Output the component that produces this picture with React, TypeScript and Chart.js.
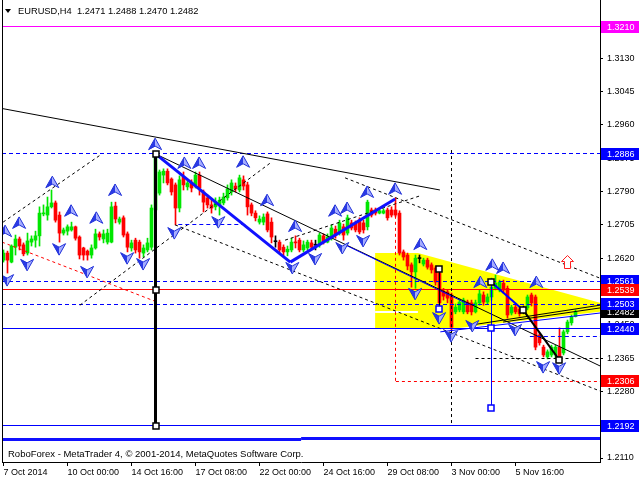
import React, { useEffect, useRef } from 'react';
import { Chart, registerables } from 'chart.js';

Chart.register(...registerables);

// ---------- candle data (EURUSD H4) ----------
const opens = [
  1.2615, 1.2633, 1.2610, 1.2648, 1.2669, 1.2654, 1.2633, 1.2661, 1.2666, 1.2677,
  1.2733, 1.2730, 1.2751, 1.2761, 1.2730, 1.2684, 1.2689, 1.2692, 1.2700, 1.2674,
  1.2646, 1.2638, 1.2628, 1.2646, 1.2682, 1.2669, 1.2661, 1.2661, 1.2753, 1.2712,
  1.2723, 1.2682, 1.2646, 1.2666, 1.2661, 1.2633, 1.2641, 1.2648, 1.2743, 1.2786,
  1.2832, 1.2842, 1.2822, 1.2807, 1.2748, 1.2827, 1.2802, 1.2814, 1.2807, 1.2832,
  1.2789, 1.2774, 1.2756, 1.2751, 1.2756, 1.2761, 1.2774, 1.2789, 1.2804, 1.2794,
  1.2820, 1.2807, 1.2756, 1.2735, 1.2712, 1.2712, 1.2733, 1.2712, 1.2663, 1.2661,
  1.2648, 1.2636, 1.2641, 1.2661, 1.2666, 1.2641, 1.2646, 1.2659, 1.2654, 1.2654,
  1.2677, 1.2661, 1.2671, 1.2694, 1.2684, 1.2700, 1.2684, 1.2710, 1.2710, 1.2717,
  1.2710, 1.2700, 1.2743, 1.2743, 1.2735, 1.2735, 1.2743, 1.2743, 1.2743, 1.2735,
  1.2636, 1.2628, 1.2603, 1.2585, 1.2620, 1.2605, 1.2615, 1.2603, 1.2595, 1.2582,
  1.2536, 1.2534, 1.2526, 1.2483, 1.2488, 1.2483, 1.2508, 1.2506, 1.2483, 1.2506,
  1.2526, 1.2508, 1.2521, 1.2543, 1.2539, 1.2556, 1.2543, 1.2480, 1.2495, 1.2490,
  1.2488, 1.2493, 1.2526, 1.2521, 1.2424, 1.2393, 1.2368, 1.2373, 1.2373, 1.2393,
  1.2378, 1.2432, 1.2455, 1.2471,
];
const highs = [
  1.2641, 1.2638, 1.2654, 1.2679, 1.2674, 1.2659, 1.2684, 1.2677, 1.2689, 1.2751,
  1.2756, 1.2776, 1.2794, 1.2766, 1.2738, 1.2697, 1.2705, 1.2712, 1.2702, 1.2677,
  1.2648, 1.2641, 1.2654, 1.2694, 1.2687, 1.2692, 1.2694, 1.2763, 1.2763, 1.2725,
  1.2728, 1.2687, 1.2666, 1.2671, 1.2666, 1.2654, 1.2671, 1.2756, 1.2886, 1.2845,
  1.2848, 1.2848, 1.2825, 1.2812, 1.2830, 1.2840, 1.2820, 1.2820, 1.2840, 1.2840,
  1.2794, 1.2781, 1.2768, 1.2774, 1.2776, 1.2786, 1.2807, 1.2820, 1.2812, 1.2832,
  1.2830, 1.2814, 1.2761, 1.2741, 1.2728, 1.2733, 1.2738, 1.2723, 1.2677, 1.2666,
  1.2654, 1.2651, 1.2671, 1.2677, 1.2671, 1.2664, 1.2666, 1.2666, 1.2666, 1.2684,
  1.2682, 1.2682, 1.2705, 1.2702, 1.2717, 1.2707, 1.2730, 1.2717, 1.2715, 1.2723,
  1.2717, 1.2768, 1.2748, 1.2748, 1.2746, 1.2746, 1.2748, 1.2751, 1.2774, 1.2741,
  1.2641, 1.2633, 1.2608, 1.2628, 1.2628, 1.2620, 1.2620, 1.2608, 1.2600, 1.2595,
  1.2543, 1.2539, 1.2531, 1.2503, 1.2516, 1.2518, 1.2513, 1.2513, 1.2513, 1.2539,
  1.2534, 1.2529, 1.2569, 1.2577, 1.2564, 1.2564, 1.2549, 1.2500, 1.2500, 1.2495,
  1.2498, 1.2526, 1.2531, 1.2526, 1.2429, 1.2398, 1.2386, 1.2398, 1.2398, 1.2442,
  1.2437, 1.2462, 1.2475, 1.2488,
];
const lows = [
  1.2610, 1.2582, 1.2608, 1.2628, 1.2641, 1.2626, 1.2628, 1.2651, 1.2648, 1.2651,
  1.2728, 1.2717, 1.2748, 1.2712, 1.2661, 1.2679, 1.2679, 1.2689, 1.2666, 1.2618,
  1.2615, 1.2615, 1.2620, 1.2643, 1.2666, 1.2659, 1.2656, 1.2659, 1.2710, 1.2707,
  1.2674, 1.2636, 1.2638, 1.2633, 1.2620, 1.2623, 1.2636, 1.2641, 1.2738, 1.2781,
  1.2812, 1.2807, 1.2781, 1.2705, 1.2738, 1.2794, 1.2794, 1.2789, 1.2799, 1.2781,
  1.2738, 1.2748, 1.2735, 1.2743, 1.2730, 1.2756, 1.2768, 1.2781, 1.2789, 1.2789,
  1.2794, 1.2730, 1.2728, 1.2715, 1.2707, 1.2705, 1.2687, 1.2659, 1.2648, 1.2633,
  1.2626, 1.2626, 1.2636, 1.2646, 1.2636, 1.2636, 1.2641, 1.2643, 1.2641, 1.2648,
  1.2656, 1.2659, 1.2666, 1.2671, 1.2679, 1.2666, 1.2679, 1.2692, 1.2687, 1.2682,
  1.2684, 1.2692, 1.2725, 1.2730, 1.2733, 1.2733, 1.2717, 1.2725, 1.2725, 1.2628,
  1.2615, 1.2590, 1.2546, 1.2543, 1.2608, 1.2600, 1.2592, 1.2582, 1.2551, 1.2498,
  1.2513, 1.2506, 1.2434, 1.2478, 1.2483, 1.2478, 1.2478, 1.2475, 1.2480, 1.2500,
  1.2500, 1.2503, 1.2513, 1.2539, 1.2534, 1.2531, 1.2467, 1.2475, 1.2478, 1.2472,
  1.2478, 1.2488, 1.2498, 1.2386, 1.2398, 1.2368, 1.2363, 1.2368, 1.2365, 1.2358,
  1.2373, 1.2427, 1.2449, 1.2470,
];
const closes = [
  1.2633, 1.2615, 1.2651, 1.2669, 1.2651, 1.2631, 1.2664, 1.2669, 1.2677, 1.2735,
  1.2735, 1.2751, 1.2761, 1.2717, 1.2684, 1.2692, 1.2700, 1.2700, 1.2671, 1.2628,
  1.2628, 1.2628, 1.2646, 1.2682, 1.2674, 1.2682, 1.2684, 1.2751, 1.2720, 1.2720,
  1.2679, 1.2648, 1.2659, 1.2641, 1.2636, 1.2646, 1.2659, 1.2748, 1.2878, 1.2840,
  1.2842, 1.2812, 1.2789, 1.2748, 1.2820, 1.2807, 1.2812, 1.2799, 1.2832, 1.2799,
  1.2763, 1.2756, 1.2748, 1.2763, 1.2768, 1.2776, 1.2797, 1.2812, 1.2797, 1.2825,
  1.2804, 1.2751, 1.2735, 1.2723, 1.2720, 1.2725, 1.2692, 1.2674, 1.2662, 1.2641,
  1.2636, 1.2643, 1.2661, 1.2659, 1.2641, 1.2654, 1.2661, 1.2648, 1.2653, 1.2679,
  1.2661, 1.2674, 1.2697, 1.2679, 1.2710, 1.2679, 1.2723, 1.2697, 1.2692, 1.2687,
  1.2692, 1.2763, 1.2730, 1.2735, 1.2741, 1.2741, 1.2723, 1.2730, 1.2730, 1.2633,
  1.2623, 1.2600, 1.2585, 1.2620, 1.2619, 1.2615, 1.2597, 1.2590, 1.2559, 1.2506,
  1.2523, 1.2518, 1.2444, 1.2495, 1.2508, 1.2513, 1.2483, 1.2483, 1.2506, 1.2529,
  1.2508, 1.2521, 1.2546, 1.2556, 1.2559, 1.2539, 1.2475, 1.2495, 1.2483, 1.2478,
  1.2487, 1.2521, 1.2506, 1.2393, 1.2404, 1.2373, 1.2381, 1.2393, 1.2393, 1.2365,
  1.2432, 1.2457, 1.2470, 1.2482,
];

// ---------- axes ----------
const xTickIndex = [0, 16, 32, 48, 64, 80, 96, 112, 128];
const xTickLabels = ['7 Oct 2014', '10 Oct 00:00', '14 Oct 16:00', '17 Oct 08:00', '22 Oct 00:00',
  '24 Oct 16:00', '29 Oct 08:00', '3 Nov 00:00', '5 Nov 16:00'];
const yTickValues = [1.2110, 1.2195, 1.2280, 1.2365, 1.2450, 1.2535, 1.2620, 1.2705, 1.2790,
  1.2875, 1.2960, 1.3045, 1.3130, 1.3215];
const X_MIN = -0.375;
const X_MAX = 149.125;
const Y_MIN = 1.20998;
const Y_MAX = 1.32789;

// ---------- chart objects ----------
const levelPrices = [1.3210, 1.2886, 1.2561, 1.2539, 1.2503, 1.2440, 1.2192];
const levelKinds = ['magenta', 'blueDash', 'blueDash', 'red', 'blueDash', 'blue', 'blue'];

const labelPrices = [1.3210, 1.2886, 1.2561, 1.2539, 1.2482, 1.2503, 1.2440, 1.2306, 1.2192];
const labelKinds = ['magenta', 'blue', 'blue', 'red', 'black', 'blue', 'blue', 'red', 'blue'];

// [index1, price1, index2, price2, kind]
const segments: [number, number, number, number, string][] = [
  [-0.375, 1.3002, 109.1, 1.2794, 'black'],
  [38, 1.2886, 149.125, 1.2345, 'black'],
  [85.4, 1.2654, 116.7, 1.2500, 'blue'],
  [-0.1, 1.2712, 24.6, 1.2886, 'blackDash'],
  [19.1, 1.2500, 67.1, 1.2866, 'blackDash'],
  [42.9, 1.2705, 149.125, 1.2281, 'blackDash'],
  [70.4, 1.2666, 104.1, 1.2779, 'blackDash'],
  [85.4, 1.2825, 149.125, 1.2569, 'blackDash'],
  [-0.375, 1.2661, 38.4, 1.2508, 'redDash'],
  [98.1, 1.2774, 98.1, 1.2306, 'redDash'],
  [98.1, 1.2306, 149.125, 1.2306, 'redDash'],
  [112.1, 1.2896, 112.1, 1.2194, 'blackDash'],
  [118, 1.2365, 149.125, 1.2365, 'blackDash'],
  [131.6, 1.2419, 149.125, 1.2419, 'blueDash'],
  [43.7, 1.2705, 60.4, 1.2705, 'blueDash'],
  [121.9, 1.2559, 121.9, 1.2238, 'blue'],
  [108.9, 1.2592, 108.9, 1.2490, 'black'],
  [116.7, 1.2449, 149.125, 1.2500, 'black'],
  [109.2, 1.2432, 149.125, 1.2480, 'blue'],
  [124.9, 1.2457, 149.125, 1.2493, 'black'],
  [121.9, 1.2559, 129.9, 1.2488, 'blueMed'],
  [129.9, 1.2488, 138.9, 1.2361, 'blackMed'],
  [-0.375, 1.2157, 74.4, 1.2157, 'blueThick'],
  [74.4, 1.2160, 149.125, 1.2160, 'blueThick'],
  [38, 1.2886, 38, 1.2192, 'blackThick'],
  [38, 1.2886, 71.7, 1.2610, 'blueThick'],
  [71.7, 1.2610, 97.9, 1.2771, 'blueThick'],
];

const yellowX = [92.9, 103.6, 149.125, 149.125, 111.6, 92.9];
const yellowY = [1.2633, 1.2633, 1.2506, 1.2483, 1.2439, 1.2442];
const whiteLine = [92.9, 103.6, 1.2483];

const blackSquareX = [38, 38, 38, 108.9, 121.9, 129.9, 138.9];
const blackSquareY = [1.2886, 1.2539, 1.2192, 1.2592, 1.2559, 1.2488, 1.2361];
const blueSquareX = [108.9, 121.9, 121.9];
const blueSquareY = [1.2490, 1.2442, 1.2238];

const upArrowX = [0.4, 3.9, 12.2, 16.9, 23.2, 27.9, 37.9, 45.2, 48.9, 59.9, 65.9, 72.9, 82.9, 85.9,
  90.9, 97.9, 104.2, 119.2, 122.2, 124.9, 133.2];
const upArrowY = [1.2689, 1.2710, 1.2814, 1.2741, 1.2723, 1.2794, 1.2911, 1.2863, 1.2863, 1.2866,
  1.2768, 1.2702, 1.2741, 1.2748, 1.2789, 1.2797, 1.2656, 1.2559, 1.2603, 1.2595, 1.2559];
const downArrowX = [0.9, 5.9, 13.9, 20.9, 30.9, 34.9, 42.7, 53.7, 72.2, 77.9, 84.7, 89.9, 102.9,
  108.9, 111.9, 117.2, 127.9, 134.9, 138.9];
const downArrowY = [1.2564, 1.2603, 1.2643, 1.2585, 1.2620, 1.2605, 1.2684, 1.2712, 1.2595, 1.2618,
  1.2646, 1.2664, 1.2529, 1.2467, 1.2421, 1.2447, 1.2437, 1.2342, 1.2339];
const signalArrow = [140.9, 1.2610];

const titleText = 'EURUSD,H4  1.2471 1.2488 1.2470 1.2482';
const copyrightText = 'RoboForex - MetaTrader 4, \u00A9 2001-2014, MetaQuotes Software Corp.';

// ---------- styles ----------
const FONT = '"Liberation Sans", Arial, sans-serif';
const UP = '#00e600';
const DOWN = '#ff0000';
const STYLES: Record<string, { color: string; width: number; dash: number[] }> = {
  black: { color: '#000000', width: 1, dash: [] },
  blackDash: { color: '#000000', width: 1, dash: [3, 3] },
  blue: { color: '#0000ff', width: 1, dash: [] },
  blueDash: { color: '#0000ff', width: 1, dash: [4, 3] },
  red: { color: '#ff0000', width: 1, dash: [] },
  redDash: { color: '#ff0000', width: 1, dash: [3, 3] },
  magenta: { color: '#ff00ff', width: 1, dash: [] },
  blueThick: { color: '#1010ff', width: 3, dash: [] },
  blackThick: { color: '#000000', width: 3, dash: [] },
  blackMed: { color: '#000000', width: 2, dash: [] },
  blueMed: { color: '#0000ff', width: 2, dash: [] },
};
const BOX: Record<string, string> = { magenta: '#ff00ff', blue: '#0000ff', red: '#ff0000', black: '#000000' };

const candleColor = (i: number) => {
  if (Math.abs(opens[i] - closes[i]) <= 0.00011) return '#000000';
  return closes[i] > opens[i] ? UP : DOWN;
};

const mt4Plugin = {
  id: 'mt4objects',
  beforeDatasetsDraw(chart: any) {
    const { ctx, chartArea: a, scales } = chart;
    const x = scales.x, y = scales.y;
    ctx.save();
    ctx.beginPath();
    ctx.rect(a.left, a.top, a.right - a.left, a.bottom - a.top);
    ctx.clip();
    ctx.fillStyle = '#ffff00';
    ctx.beginPath();
    yellowX.forEach((v, k) => {
      const px = x.getPixelForValue(v), py = y.getPixelForValue(yellowY[k]);
      if (k === 0) ctx.moveTo(px, py); else ctx.lineTo(px, py);
    });
    ctx.closePath();
    ctx.fill();
    ctx.strokeStyle = '#ffffff';
    ctx.lineWidth = 2;
    const wy = Math.round(y.getPixelForValue(whiteLine[2]));
    ctx.beginPath();
    ctx.moveTo(x.getPixelForValue(whiteLine[0]), wy);
    ctx.lineTo(x.getPixelForValue(whiteLine[1]), wy);
    ctx.stroke();
    ctx.restore();
  },
  afterDatasetsDraw(chart: any) {
    const { ctx, chartArea: a, scales } = chart;
    const x = scales.x, y = scales.y;
    ctx.save();
    ctx.beginPath();
    ctx.rect(a.left, a.top, a.right - a.left, a.bottom - a.top);
    ctx.clip();

    const seg = (i1: number, p1: number, i2: number, p2: number, kind: string) => {
      const st = STYLES[kind];
      let x1 = x.getPixelForValue(i1), y1 = y.getPixelForValue(p1);
      let x2 = x.getPixelForValue(i2), y2 = y.getPixelForValue(p2);
      const odd = st.width % 2 === 1;
      if (i1 === i2) { x1 = x2 = odd ? Math.floor(x1) + 0.5 : Math.round(x1); }
      if (p1 === p2) { y1 = y2 = odd ? Math.floor(y1) + 0.5 : Math.round(y1); }
      ctx.strokeStyle = st.color;
      ctx.lineWidth = st.width;
      ctx.setLineDash(st.dash);
      ctx.beginPath();
      ctx.moveTo(x1, y1);
      ctx.lineTo(x2, y2);
      ctx.stroke();
    };

    levelPrices.forEach((p, k) => seg(X_MIN, p, X_MAX, p, levelKinds[k]));
    segments.forEach((s) => seg(s[0], s[1], s[2], s[3], s[4]));
    ctx.setLineDash([]);

    const square = (i: number, p: number, color: string) => {
      const px = Math.round(x.getPixelForValue(i)), py = Math.round(y.getPixelForValue(p));
      ctx.fillStyle = '#ffffff';
      ctx.fillRect(px - 3, py - 3, 6, 6);
      ctx.strokeStyle = color;
      ctx.lineWidth = 1.5;
      ctx.strokeRect(px - 3, py - 3, 6, 6);
    };
    blackSquareX.forEach((v, k) => square(v, blackSquareY[k], '#000000'));
    blueSquareX.forEach((v, k) => square(v, blueSquareY[k], '#0000ff'));

    const arrow = (i: number, p: number, dir: number) => {
      const cx = x.getPixelForValue(i), cy = y.getPixelForValue(p);
      const tip = cy - 6 * dir, base = cy + 5.5 * dir, notch = cy + 2 * dir;
      const hw = 6.5;
      ctx.lineWidth = 1;
      ctx.fillStyle = '#2a3ae6';
      ctx.beginPath();
      ctx.moveTo(cx, tip); ctx.lineTo(cx, notch); ctx.lineTo(cx - hw, base); ctx.closePath();
      ctx.fill();
      ctx.fillStyle = '#a4acff';
      ctx.beginPath();
      ctx.moveTo(cx, tip); ctx.lineTo(cx + hw, base); ctx.lineTo(cx, notch); ctx.closePath();
      ctx.fill();
      ctx.strokeStyle = '#2030d8';
      ctx.beginPath();
      ctx.moveTo(cx, tip); ctx.lineTo(cx + hw, base); ctx.lineTo(cx, notch); ctx.lineTo(cx - hw, base);
      ctx.closePath();
      ctx.stroke();
    };
    upArrowX.forEach((v, k) => arrow(v, upArrowY[k], 1));
    downArrowX.forEach((v, k) => arrow(v, downArrowY[k], -1));

    // hollow red signal arrow
    const sx = Math.round(x.getPixelForValue(signalArrow[0])) + 0.5;
    const sy = Math.round(y.getPixelForValue(signalArrow[1])) + 0.5;
    ctx.fillStyle = '#ffffff';
    ctx.strokeStyle = '#ff2020';
    ctx.lineWidth = 1;
    ctx.beginPath();
    ctx.moveTo(sx, sy - 7);
    ctx.lineTo(sx + 6, sy - 1);
    ctx.lineTo(sx + 3, sy - 1);
    ctx.lineTo(sx + 3, sy + 6);
    ctx.lineTo(sx - 3, sy + 6);
    ctx.lineTo(sx - 3, sy - 1);
    ctx.lineTo(sx - 6, sy - 1);
    ctx.closePath();
    ctx.fill();
    ctx.stroke();
    ctx.restore();
  },
  afterDraw(chart: any) {
    const { ctx, chartArea: a, scales } = chart;
    const y = scales.y;
    ctx.save();
    // left frame line
    ctx.strokeStyle = '#000000';
    ctx.lineWidth = 1;
    ctx.beginPath();
    ctx.moveTo(a.left + 0.5, a.top);
    ctx.lineTo(a.left + 0.5, a.bottom);
    ctx.stroke();

    // price labels on the axis
    ctx.font = `9px ${FONT}`;
    ctx.textBaseline = 'middle';
    ctx.textAlign = 'left';
    labelPrices.forEach((p, k) => {
      const py = Math.round(y.getPixelForValue(p));
      ctx.fillStyle = BOX[labelKinds[k]];
      ctx.fillRect(a.right + 1, py - 6, 38, 12);
      ctx.fillStyle = '#ffffff';
      ctx.fillText(p.toFixed(4), a.right + 7, py + 0.5);
    });

    // title
    ctx.fillStyle = '#000000';
    ctx.beginPath();
    ctx.moveTo(5, 9); ctx.lineTo(11, 9); ctx.lineTo(8, 13); ctx.closePath();
    ctx.fill();
    ctx.font = `9.3px ${FONT}`;
    ctx.fillText(titleText, 18, 11.5);

    // copyright
    ctx.font = `9.5px ${FONT}`;
    ctx.fillText(copyrightText, 8, 454);
    ctx.restore();
  },
};

export default function App() {
  const ref = useRef<HTMLCanvasElement | null>(null);
  useEffect(() => {
    if (!ref.current) return;
    const idx = opens.map((_, i) => i);
    const colors = idx.map(candleColor);
    const chart = new Chart(ref.current, {
      type: 'bar',
      data: {
        datasets: [
          {
            label: 'wicks',
            data: idx.map((i) => ({ x: i, y: [lows[i], highs[i]] })) as any,
            backgroundColor: colors,
            borderWidth: 0,
            barThickness: 1,
            grouped: false,
            order: 2,
          } as any,
          {
            label: 'bodies',
            data: idx.map((i) => ({ x: i, y: [Math.min(opens[i], closes[i]), Math.max(opens[i], closes[i])] })) as any,
            backgroundColor: colors,
            borderWidth: 0,
            barThickness: 3,
            minBarLength: 1,
            grouped: false,
            order: 1,
          } as any,
        ],
      },
      options: {
        animation: false,
        responsive: false,
        maintainAspectRatio: false,
        events: [],
        layout: { padding: { left: 2, top: 0, right: 0, bottom: 0 } },
        plugins: { legend: { display: false }, tooltip: { enabled: false }, title: { display: false } },
        scales: {
          x: {
            type: 'linear',
            min: X_MIN,
            max: X_MAX,
            offset: false,
            grid: { display: true, drawOnChartArea: false, drawTicks: true, tickLength: 4, color: '#000000', offset: false },
            border: { display: true, color: '#000000' },
            ticks: {
              autoSkip: false,
              maxRotation: 0,
              minRotation: 0,
              align: 'start',
              padding: 1,
              color: '#000000',
              font: { family: FONT, size: 9 },
              callback: (v: any) => {
                const k = xTickIndex.indexOf(Number(v));
                return k >= 0 ? xTickLabels[k] : '';
              },
            },
            afterBuildTicks: (s: any) => { s.ticks = xTickIndex.map((v) => ({ value: v })); },
            afterFit: (s: any) => { s.height = 18; s.paddingLeft = 0; s.paddingRight = 0; },
          } as any,
          y: {
            type: 'linear',
            position: 'right',
            min: Y_MIN,
            max: Y_MAX,
            grid: { display: true, drawOnChartArea: false, drawTicks: true, tickLength: 3, color: '#000000' },
            border: { display: true, color: '#000000' },
            ticks: {
              padding: 4,
              color: '#000000',
              font: { family: FONT, size: 9 },
              callback: (v: any) => Number(v).toFixed(4),
            },
            afterBuildTicks: (s: any) => { s.ticks = yTickValues.map((v) => ({ value: v })); },
            afterFit: (s: any) => { s.width = 40; s.paddingTop = 0; s.paddingBottom = 0; },
          } as any,
        },
      },
      plugins: [mt4Plugin],
    });
    return () => chart.destroy();
  }, []);

  return (
    <div style={{ position: 'fixed', left: 0, top: 0, width: 640, height: 480, background: '#ffffff' }}>
      <canvas ref={ref} width={640} height={480} style={{ display: 'block' }} />
    </div>
  );
}
